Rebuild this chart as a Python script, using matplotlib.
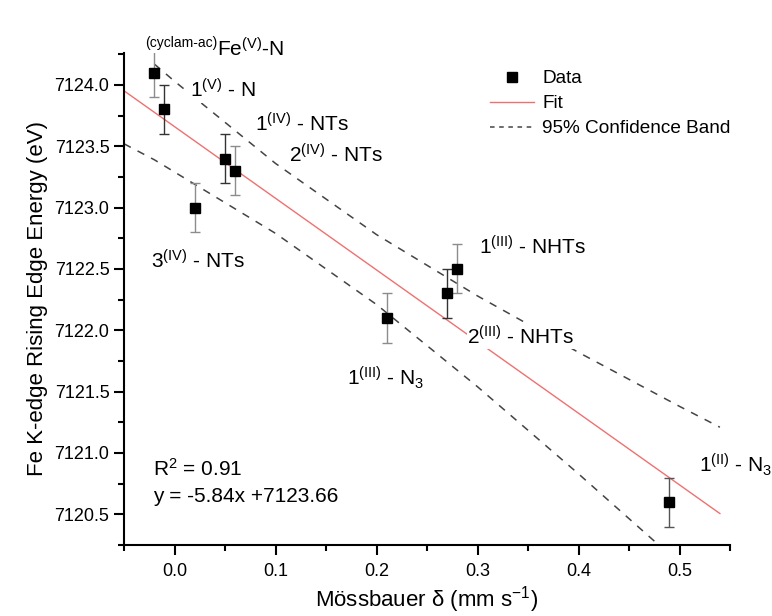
import numpy as np
import matplotlib
matplotlib.use('Agg')
import matplotlib.pyplot as plt
from matplotlib.lines import Line2D
from matplotlib.ticker import MultipleLocator

plt.rcParams['font.family'] = ['Liberation Sans', 'DejaVu Sans']
plt.rcParams['mathtext.default'] = 'regular'

# Mössbauer isomer shift vs. Fe K-edge rising edge energy
delta = [-0.02, -0.01, 0.02, 0.05, 0.06, 0.21, 0.27, 0.28, 0.49]
energy = [7124.1, 7123.8, 7123.0, 7123.4, 7123.3, 7122.1, 7122.3, 7122.5, 7120.6]
energy_err = [0.2, 0.2, 0.2, 0.2, 0.2, 0.2, 0.2, 0.2, 0.2]
err_colors = ['#8c8c8c', '#333333', '#8c8c8c', '#333333', '#8c8c8c',
              '#8c8c8c', '#333333', '#8c8c8c', '#555555']

# linear fit y = slope*x + intercept
slope = -5.84
intercept = 7123.66
r2 = 0.91
fit_x = [-0.05, 0.54]

# 95% confidence band
band_up_x = [-0.02, 0.0, 0.1, 0.2, 0.3, 0.4, 0.5, 0.54]
band_up_y = [7124.17, 7124.03, 7123.36, 7122.78, 7122.28, 7121.82, 7121.38, 7121.21]
band_lo_x = [-0.05, -0.02, 0.0, 0.1, 0.2, 0.3, 0.4, 0.5]
band_lo_y = [7123.52, 7123.39, 7123.29, 7122.79, 7122.21, 7121.54, 7120.83, 7120.10]

# compound labels: (text, x, y)
labels = [
    (r'1$^{(V)}$ - N', 0.015, 7123.894),
    (r'1$^{(IV)}$ - NTs', 0.080, 7123.618),
    (r'2$^{(IV)}$ - NTs', 0.113, 7123.366),
    (r'3$^{(IV)}$ - NTs', -0.023, 7122.504),
    (r'1$^{(III)}$ - NHTs', 0.3015, 7122.618),
    (r'2$^{(III)}$ - NHTs', 0.290, 7121.886),
    (r'1$^{(III)}$ - N$_3$', 0.171, 7121.553),
    (r'1$^{(II)}$ - N$_3$', 0.519, 7120.846),
]

fig = plt.figure(figsize=(7.72, 6.16), dpi=100)
ax = fig.add_axes([124 / 772, 71 / 616, 606 / 772, 492 / 616])

ax.set_xlim(-0.05, 0.55)
ax.set_ylim(7120.25, 7124.26)
ax.xaxis.set_major_locator(MultipleLocator(0.1))
ax.xaxis.set_minor_locator(MultipleLocator(0.05))
ax.yaxis.set_major_locator(MultipleLocator(0.5))
ax.yaxis.set_minor_locator(MultipleLocator(0.25))
ax.xaxis.set_major_formatter(plt.FormatStrFormatter('%.1f'))
ax.yaxis.set_major_formatter(plt.FormatStrFormatter('%.1f'))
ax.tick_params(which='major', direction='out', length=7, width=1.5, labelsize=13)
ax.tick_params(which='minor', direction='out', length=4, width=1.5)
ax.tick_params(axis='x', pad=6)
for s in ['top', 'right']:
    ax.spines[s].set_visible(False)
for s in ['left', 'bottom']:
    ax.spines[s].set_linewidth(1.5)

fx = np.array(fit_x)
ax.plot(fx, slope * fx + intercept, color='#f07070', lw=1.0, zorder=2)
ax.plot(band_up_x, band_up_y, color='#444444', lw=1.1, dashes=(5, 5), zorder=2)
ax.plot(band_lo_x, band_lo_y, color='#444444', lw=1.1, dashes=(5, 5), zorder=2)

for xi, yi, ei, c in zip(delta, energy, energy_err, err_colors):
    ax.errorbar(xi, yi, yerr=ei, fmt='none', ecolor=c, elinewidth=1.0,
                capsize=3.5, capthick=1.0, zorder=3)
ax.plot(delta, energy, 's', color='black', ms=6.5, zorder=4)

for txt, tx, ty in labels:
    ax.text(tx, ty, txt, fontsize=15, ha='left', va='baseline', zorder=5,
            clip_on=False,
            bbox=dict(facecolor='white', edgecolor='none', pad=0.5))

# complex label above the first point: small prefix then the main part
t1 = ax.text(-0.029, 7124.31, '(cyclam-ac)', fontsize=10, ha='left',
             va='baseline', clip_on=False)
fig.canvas.draw()
bb = t1.get_window_extent()
x_end = ax.transData.inverted().transform((bb.x1, bb.y0))[0]
ax.text(x_end, 7124.228, r'Fe$^{(V)}$-N', fontsize=15, ha='left', va='baseline',
        clip_on=False)

ax.text(-0.021, 7120.81, r'R$^2$ = %.2f' % r2, fontsize=15, ha='left', va='baseline')
ax.text(-0.021, 7120.60, 'y = %.2fx +%.2f' % (slope, intercept), fontsize=15,
        ha='left', va='baseline')

ax.set_xlabel(r'Mössbauer $\delta$ (mm s$^{-1}$)', fontsize=16, labelpad=3)
ax.set_ylabel('Fe K-edge Rising Edge Energy (eV)', fontsize=16, labelpad=5)

handles = [
    Line2D([], [], marker='s', color='black', ls='none', ms=6.5),
    Line2D([], [], color='#f07070', lw=1.0),
    Line2D([], [], color='#444444', lw=1.1, dashes=(3, 3)),
]
ax.legend(handles, ['Data', 'Fit', '95% Confidence Band'], loc='upper left',
          bbox_to_anchor=(490 / 772, 1 - 70 / 616), bbox_transform=fig.transFigure,
          frameon=False, fontsize=13.7, handlelength=2.3, handletextpad=0.45,
          labelspacing=0.4, borderpad=0, borderaxespad=0)

fig.savefig('out.png', dpi=100)
